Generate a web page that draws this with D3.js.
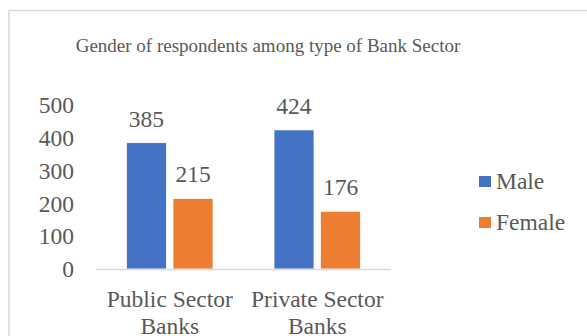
<!DOCTYPE html>
<html>
<head>
<meta charset="utf-8">
<script src="https://cdn.jsdelivr.net/npm/d3@7"></script>
<style>
  html, body { margin: 0; padding: 0; background: #fff; }
  svg { display: block; }
</style>
</head>
<body>
<svg id="chart" width="587" height="336"></svg>
<script>
// Bank sector categories and respondent counts by gender
const categories = [["Public Sector", "Banks"], ["Private Sector", "Banks"]];
const seriesNames = ["Male", "Female"];
const maleValues = [385, 424];
const femaleValues = [215, 176];
const yTicks = [0, 100, 200, 300, 400, 500];
const colors = ["#4472C4", "#ED7D31"];

const FONT = '"Liberation Serif", "Times New Roman", serif';
const TEXT_COLOR = "#595959";
const LABEL_SIZE = 23.5;

const svg = d3.select("#chart");
const W = 587, H = 336;

function styleText(sel, size) {
  return sel.style("font-family", FONT)
    .style("font-size", size + "px")
    .attr("fill", TEXT_COLOR);
}

// chart frame
svg.append("rect")
  .attr("x", 9).attr("y", 10.5)
  .attr("width", W + 10).attr("height", H + 10)
  .attr("fill", "#fff").attr("stroke", "#d9d9d9").attr("stroke-width", 1.5);

// title
styleText(svg.append("text"), 19)
  .attr("x", 268).attr("y", 51.5)
  .attr("text-anchor", "middle")
  .text("Gender of respondents among type of Bank Sector");

const plot = { left: 96, right: 391, top: 105, bottom: 269 };

const x0 = d3.scaleBand()
  .domain(categories.map((c, i) => i))
  .range([plot.left, plot.right]);

const x1 = d3.scaleBand()
  .domain(seriesNames)
  .range([0, x0.bandwidth()])
  .paddingInner(0.14)
  .paddingOuter(0.656);

const y = d3.scaleLinear()
  .domain([0, 500])
  .range([plot.bottom, plot.top]);

// y-axis tick labels (no axis line)
const yAxis = d3.axisLeft(y).tickValues(yTicks).tickSize(0).tickPadding(0);
const gy = svg.append("g")
  .attr("transform", `translate(${plot.left - 22},0)`)
  .call(yAxis)
  .attr("font-family", null).attr("font-size", null);
gy.select(".domain").remove();
styleText(gy.selectAll("text"), LABEL_SIZE).attr("dy", "0.33em");

// bars
const data = categories.map((c, i) => ({
  idx: i,
  values: [
    { key: "Male", value: maleValues[i] },
    { key: "Female", value: femaleValues[i] }
  ]
}));

const groups = svg.append("g").selectAll("g")
  .data(data)
  .join("g")
  .attr("transform", d => `translate(${x0(d.idx)},0)`);

groups.selectAll("rect")
  .data(d => d.values)
  .join("rect")
  .attr("x", d => x1(d.key))
  .attr("y", d => y(d.value))
  .attr("width", x1.bandwidth())
  .attr("height", d => y(0) - y(d.value))
  .attr("fill", (d, i) => colors[i])
  .attr("stroke", "#fff")
  .attr("stroke-width", 0.75);

// value labels
styleText(groups.selectAll("text.val")
  .data(d => d.values)
  .join("text")
  .attr("class", "val"), LABEL_SIZE)
  .attr("x", d => x1(d.key) + x1.bandwidth() / 2)
  .attr("y", d => y(d.value) - 16)
  .attr("text-anchor", "middle")
  .text(d => d.value);

// x baseline
svg.append("line")
  .attr("x1", plot.left).attr("x2", plot.right)
  .attr("y1", plot.bottom + 0.5).attr("y2", plot.bottom + 0.5)
  .attr("stroke", "#d9d9d9").attr("stroke-width", 1.3);

// category labels (two lines)
const xl = styleText(svg.append("g").selectAll("text")
  .data(categories)
  .join("text"), LABEL_SIZE)
  .attr("text-anchor", "middle")
  .attr("x", (d, i) => x0(i) + x0.bandwidth() / 2)
  .attr("y", 307);
xl.selectAll("tspan")
  .data(d => d)
  .join("tspan")
  .attr("x", function() { return this.parentNode.getAttribute("x"); })
  .attr("dy", (d, i) => i === 0 ? 0 : 26.7)
  .text(d => d);

// legend
const legend = svg.append("g").selectAll("g")
  .data(seriesNames)
  .join("g")
  .attr("transform", (d, i) => `translate(479,${176 + i * 41})`);
legend.append("rect")
  .attr("width", 12).attr("height", 11)
  .attr("fill", (d, i) => colors[i]);
styleText(legend.append("text"), LABEL_SIZE)
  .attr("x", 17).attr("y", 13.3)
  .text(d => d);
</script>
</body>
</html>
